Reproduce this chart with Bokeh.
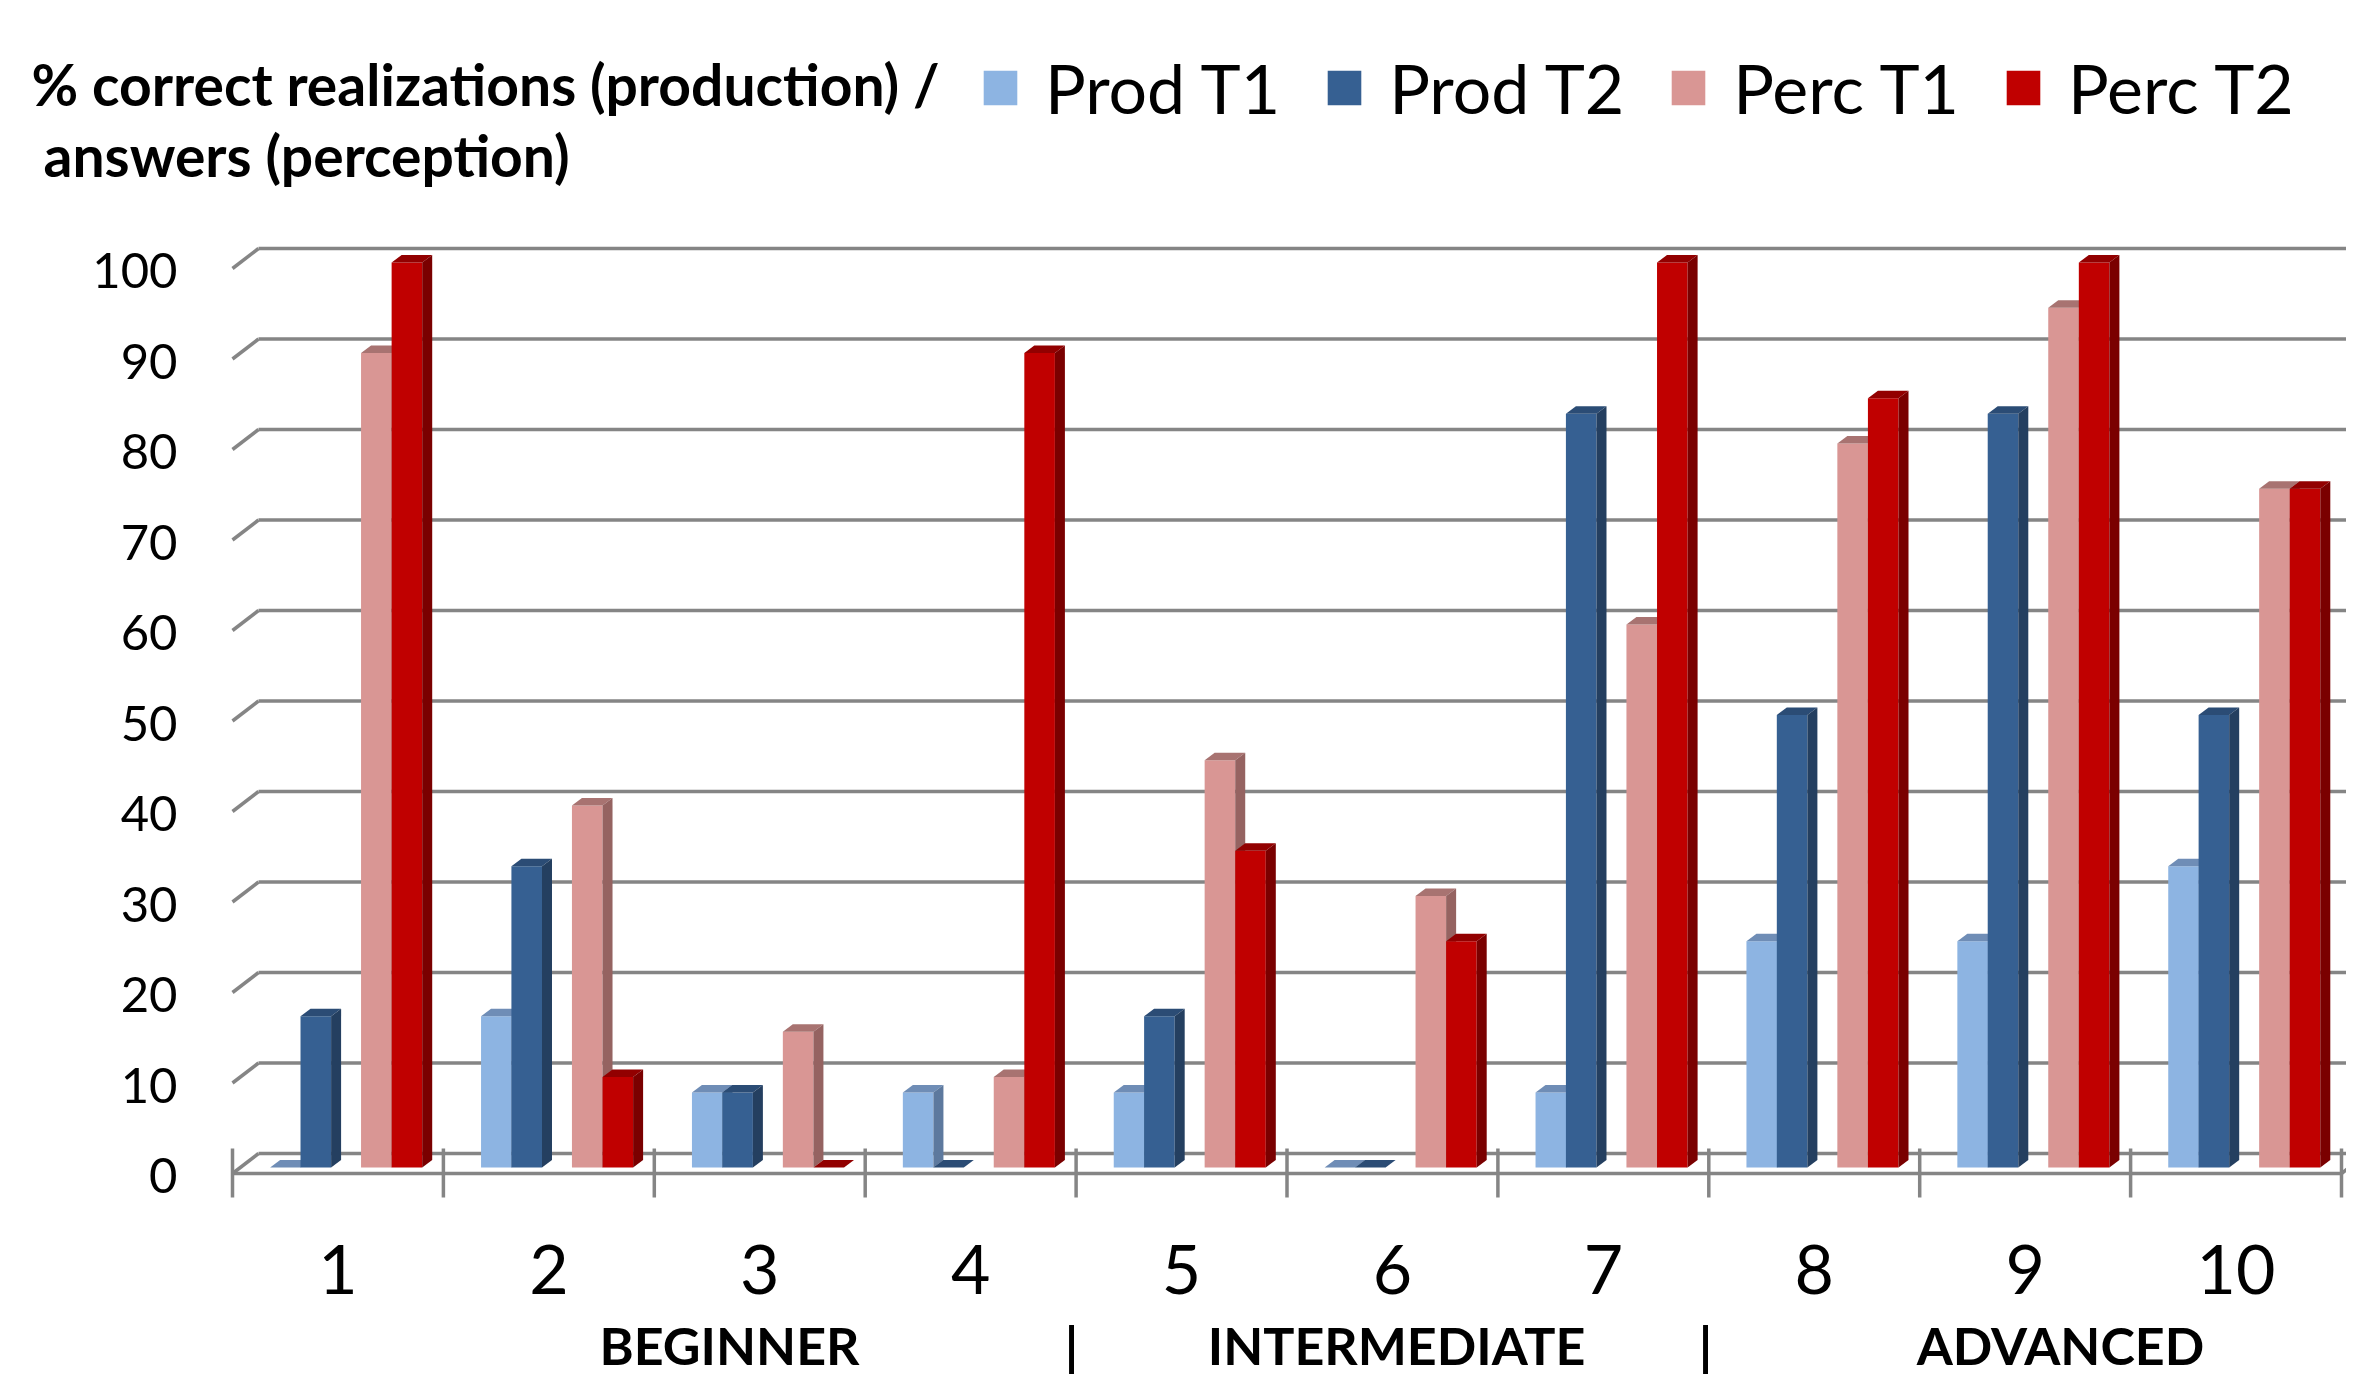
from bokeh.plotting import figure
from bokeh.models import Range1d, Label, Legend, LegendItem
from bokeh.core.properties import value
from bokeh.embed import file_html
from bokeh.resources import INLINE

# ---------------- data ----------------
categories = ["1", "2", "3", "4", "5", "6", "7", "8", "9", "10"]
series_names = ["Prod T1", "Prod T2", "Perc T1", "Perc T2"]
prod_t1 = [0, 16.7, 8.3, 8.3, 8.3, 0, 8.3, 25, 25, 33.3]
prod_t2 = [16.7, 33.3, 8.3, 0, 16.7, 0, 83.3, 50, 83.3, 50]
perc_t1 = [90, 40, 15, 10, 45, 30, 60, 80, 95, 75]
perc_t2 = [100, 10, 0, 90, 35, 25, 100, 85, 100, 75]
y_ticks = [0, 10, 20, 30, 40, 50, 60, 70, 80, 90, 100]
group_labels = ["BEGINNER", "|", "INTERMEDIATE", "|", "ADVANCED"]
title_lines = ["% correct realizations (production) /", " answers (perception)"]

series_values = [prod_t1, prod_t2, perc_t1, perc_t2]

# ---------------- styles / layout ----------------
front_colors = ["#8DB4E2", "#366092", "#D99694", "#C00000"]
top_colors = ["#6F8DB6", "#2B4C75", "#A87371", "#920000"]
side_colors = ["#5D799E", "#243F60", "#956361", "#7A0000"]
grid_color = "#858585"
FONT = "Lato"

W, H = 2346, 1377           # figure size (px)
FL = 232                    # px of the front-left corner
Y0 = 1173                   # px of value 0 on the front plane
PX, PY = 210.9, 9.05        # px per x unit / per value unit

def px2x(rx):
    return 0.5 + (rx - FL) / PX

def px2y(ry):
    return (Y0 - ry) / PY

DX, DV = 26 / PX, 20 / PY          # wall depth
BASE = 6 / PY                      # bar base above front floor
BW = 0.145                         # bar width
OFFS = [-0.249, -0.105, 0.182, 0.327]
ddx, ddy = 10 / PX, 7.5 / PY       # bar depth

p = figure(width=W, height=H, output_backend="svg", toolbar_location=None,
           x_range=Range1d(px2x(0), px2x(W)), y_range=Range1d(px2y(H), px2y(0)),
           min_border=0, x_axis_location=None, y_axis_location=None, title=None)
p.outline_line_alpha = 0
p.xgrid.visible = False
p.ygrid.visible = False
p.background_fill_color = "white"
p.border_fill_color = "white"

n = len(categories)
x_right = px2x(W) + 1

# ---------------- walls / grid ----------------
xs0, ys0, xs1, ys1 = [], [], [], []
for v in y_ticks:
    xs0 += [0.5, 0.5 + DX]
    ys0 += [v, v + DV]
    xs1 += [0.5 + DX, x_right]
    ys1 += [v + DV, v + DV]
xs0 += [0.5, n + 0.5]
ys0 += [0, 0]
xs1 += [n + 0.5, n + 0.5 + DX]
ys1 += [0, DV]
for k in range(n + 1):
    xs0.append(0.5 + k)
    ys0.append(-24 / PY)
    xs1.append(0.5 + k)
    ys1.append(25 / PY)
p.segment(x0=xs0, y0=ys0, x1=xs1, y1=ys1, line_color=grid_color, line_width=3.5)

# ---------------- 3D bars ----------------
renderers = []
for j, vals in enumerate(series_values):
    left = [i + 1 + OFFS[j] - BW / 2 for i in range(n)]
    right = [l + BW for l in left]
    bottom = [BASE] * n
    top = [v + BASE for v in vals]
    r = p.quad(left=left, right=right, bottom=bottom, top=top,
               fill_color=front_colors[j], line_color=None)
    renderers.append(r)
    tx = [[l, rr, rr + ddx, l + ddx] for l, rr in zip(left, right)]
    ty = [[t, t, t + ddy, t + ddy] for t in top]
    p.patches(tx, ty, fill_color=top_colors[j], line_color=None)
    sx = [[rr, rr + ddx, rr + ddx, rr] for rr in right]
    sy = [[BASE, BASE + ddy, t + ddy, t] for t in top]
    p.patches(sx, sy, fill_color=side_colors[j], line_color=None)

# ---------------- tick labels ----------------
p.text(x=[px2x(177)] * len(y_ticks), y=[v - 2 / PY for v in y_ticks],
       text=[str(v) for v in y_ticks], text_align="right", text_baseline="middle",
       text_font=value(FONT), text_font_size="49px", text_color="black")

p.text(x=list(range(1, n + 1)), y=[px2y(1269)] * n, text=categories,
       text_align="center", text_baseline="middle",
       text_font=value(FONT), text_font_size="68px", text_color="black")

group_pos = [px2x(729), px2x(1071), px2x(1396), px2x(1705), px2x(2060)]
p.text(x=group_pos, y=[px2y(1344)] * len(group_labels), text=group_labels,
       text_align="center", text_baseline="middle",
       text_font=value(FONT), text_font_style="bold", text_font_size="52px",
       text_color="black")

# ---------------- title ----------------
p.add_layout(Label(x=px2x(31), y=px2y(83), text=title_lines[0], text_font=FONT,
                   text_font_style="bold", text_font_size="57px", text_color="black",
                   text_baseline="middle"))
p.add_layout(Label(x=px2x(43), y=px2y(154), text=title_lines[1], text_font=FONT,
                   text_font_style="bold", text_font_size="57px", text_color="black",
                   text_baseline="middle"))

# ---------------- legend ----------------
legend = Legend(items=[LegendItem(label=s, renderers=[r]) for s, r in zip(series_names, renderers)],
                orientation="horizontal", location=(979, H - 128),
                glyph_width=42, glyph_height=43, label_standoff=24, spacing=43,
                padding=0, margin=0, border_line_alpha=0, background_fill_alpha=0,
                label_text_font=FONT, label_text_font_size="68px", label_text_color="black")
p.add_layout(legend)

open("out.html", "w").write(file_html(p, INLINE))
